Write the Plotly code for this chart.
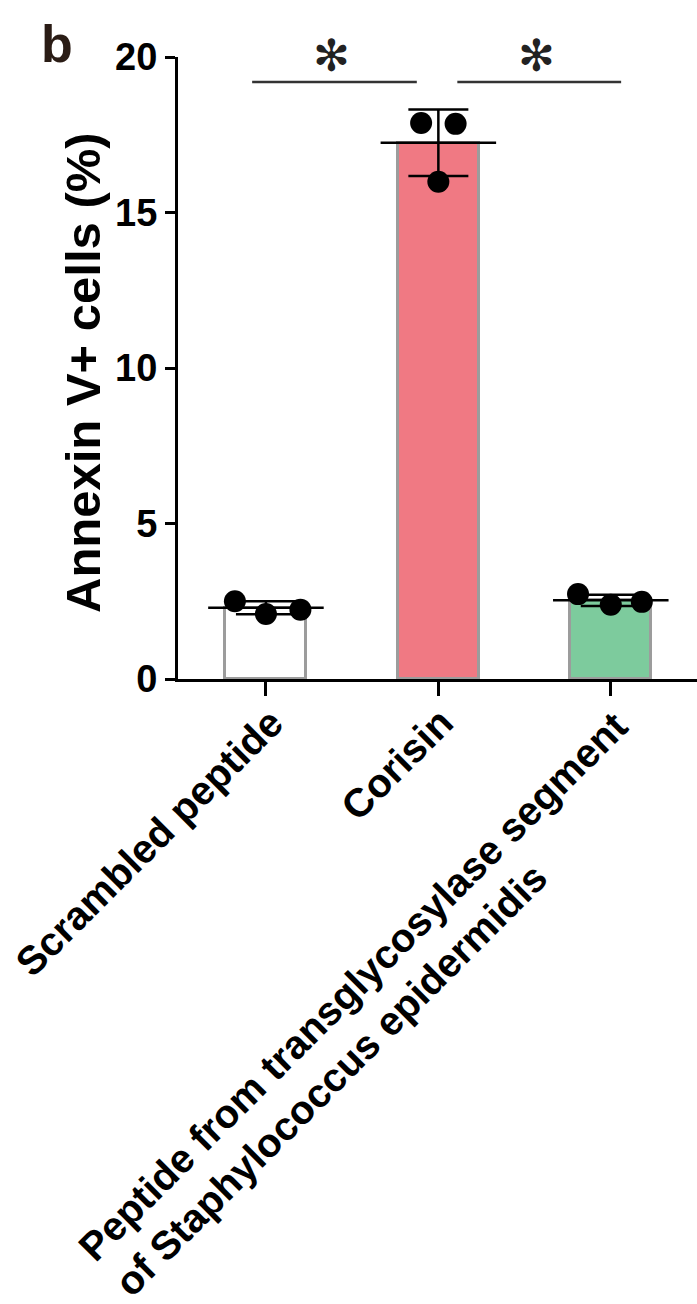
import plotly.graph_objects as go

# Groups and measured values (% Annexin V+ cells, three replicates each)
categories = [
    "Scrambled peptide",
    "Corisin",
    "Peptide from transglycosylase segment<br>of Staphylococcus epidermidis",
]
replicates = [
    [2.50, 2.09, 2.23],
    [17.88, 15.99, 17.85],
    [2.73, 2.39, 2.48],
]
means = [2.29, 17.24, 2.53]
sds = [0.21, 1.07, 0.18]
y_ticks = [0, 5, 10, 15, 20]
y_title = "Annexin V+ cells (%)"
panel_label = "b"
sig_label = "✻"

# Styling / placement
W, H = 697, 1304
L, T, B_AX = 178, 57, 679          # plot-area pixel edges
XR = [-0.51, 2.5]
FONT = "Liberation Sans"
bar_colors = ["#ffffff", "#f07983", "#7dcb9d"]
bar_outline = "#9c9c9c"
jitter = [[-0.18, 0.0, 0.20], [-0.10, 0.0, 0.10], [-0.19, 0.0, 0.18]]
BAR_W = 0.47
MEAN_HALF = 0.335
x_idx = list(range(len(categories)))

plot_w = W - L
plot_h = B_AX - T


def paper_x(p):
    return (p - L) / plot_w


def paper_y(p):
    return (B_AX - p) / plot_h


fig = go.Figure()

fig.add_trace(go.Bar(
    x=x_idx, y=means, width=BAR_W,
    marker=dict(color=bar_colors, line=dict(color=bar_outline, width=3)),
    showlegend=False, hoverinfo="skip",
))

# SD error bars
fig.add_trace(go.Scatter(
    x=x_idx, y=means, mode="markers",
    marker=dict(size=2, color="rgba(0,0,0,0)"),
    error_y=dict(type="data", array=sds, visible=True,
                 color="black", thickness=2.5, width=30),
    showlegend=False, hoverinfo="skip",
))

# Mean lines
mx, my = [], []
for i, m in zip(x_idx, means):
    mx += [i - MEAN_HALF, i + MEAN_HALF, None]
    my += [m, m, None]
fig.add_trace(go.Scatter(
    x=mx, y=my, mode="lines", line=dict(color="black", width=2.5),
    showlegend=False, hoverinfo="skip",
))

# Individual replicates
px, py = [], []
for i, (vals, offs) in enumerate(zip(replicates, jitter)):
    for v, o in zip(vals, offs):
        px.append(i + o)
        py.append(v)
fig.add_trace(go.Scatter(
    x=px, y=py, mode="markers",
    marker=dict(size=22, color="black"),
    showlegend=False, hoverinfo="skip", cliponaxis=False,
))

# Significance brackets
sig_pairs = [(-0.08, 0.875, 0.38), (1.11, 2.06, 1.57)]
for x0, x1, xs in sig_pairs:
    fig.add_shape(type="line", xref="x", yref="y", x0=x0, x1=x1, y0=19.2, y1=19.2,
                  line=dict(color="#333333", width=2.5))
    fig.add_annotation(x=xs, y=paper_y(56), xref="x", yref="paper", text=sig_label,
                       showarrow=False, font=dict(family="DejaVu Sans", size=44, color="#222222"),
                       xanchor="center", yanchor="middle")

# Rotated category labels ending at their ticks
label_font = dict(family=FONT, size=40, color="black", weight="bold")
label_dx = [0.165, 0.15]
for i, dx in enumerate(label_dx):
    fig.add_annotation(
        x=i + dx, y=paper_y(697), xref="x", yref="paper", text=categories[i],
        textangle=-45, showarrow=False, xanchor="right", yanchor="top",
        font=label_font,
    )

# Two-line label: lines share a common left edge along the rotated baseline
long_lines = categories[2].split("<br>")
line_starts = [(67.5, 1272), (103.0, 1307)]
for txt, (sx, sy) in zip(long_lines, line_starts):
    fig.add_annotation(
        x=paper_x(sx), y=paper_y(sy), xref="paper", yref="paper", text=txt,
        textangle=-45, showarrow=False, xanchor="left", yanchor="bottom",
        font=label_font,
    )

# Y-axis title
fig.add_annotation(
    x=paper_x(83), y=paper_y(373), xref="paper", yref="paper", text=y_title,
    textangle=-90, showarrow=False, xanchor="center", yanchor="middle",
    font=dict(family=FONT, size=49, color="black", weight="bold"),
)

# Panel letter
fig.add_annotation(
    x=paper_x(57), y=paper_y(44), xref="paper", yref="paper", text=panel_label,
    showarrow=False, xanchor="center", yanchor="middle",
    font=dict(family=FONT, size=52, color="#2a1c15", weight="bold"),
)

fig.update_layout(
    width=W, height=H,
    margin=dict(l=L, r=0, t=T, b=H - B_AX),
    paper_bgcolor="white", plot_bgcolor="white",
    bargap=0, showlegend=False,
    xaxis=dict(
        range=XR, tickvals=x_idx, showticklabels=False,
        ticks="outside", ticklen=14, tickwidth=3, tickcolor="black",
        showline=True, linecolor="black", linewidth=3,
        showgrid=False, zeroline=False, fixedrange=True,
    ),
    yaxis=dict(
        range=[0, 20], tickvals=y_ticks,
        ticks="outside", ticklen=10, tickwidth=3, tickcolor="black",
        showline=True, linecolor="black", linewidth=3,
        showgrid=False, zeroline=False,
        tickfont=dict(family=FONT, size=38, color="black", weight="bold"),
        fixedrange=True,
    ),
)

fig.write_html("out.html")
